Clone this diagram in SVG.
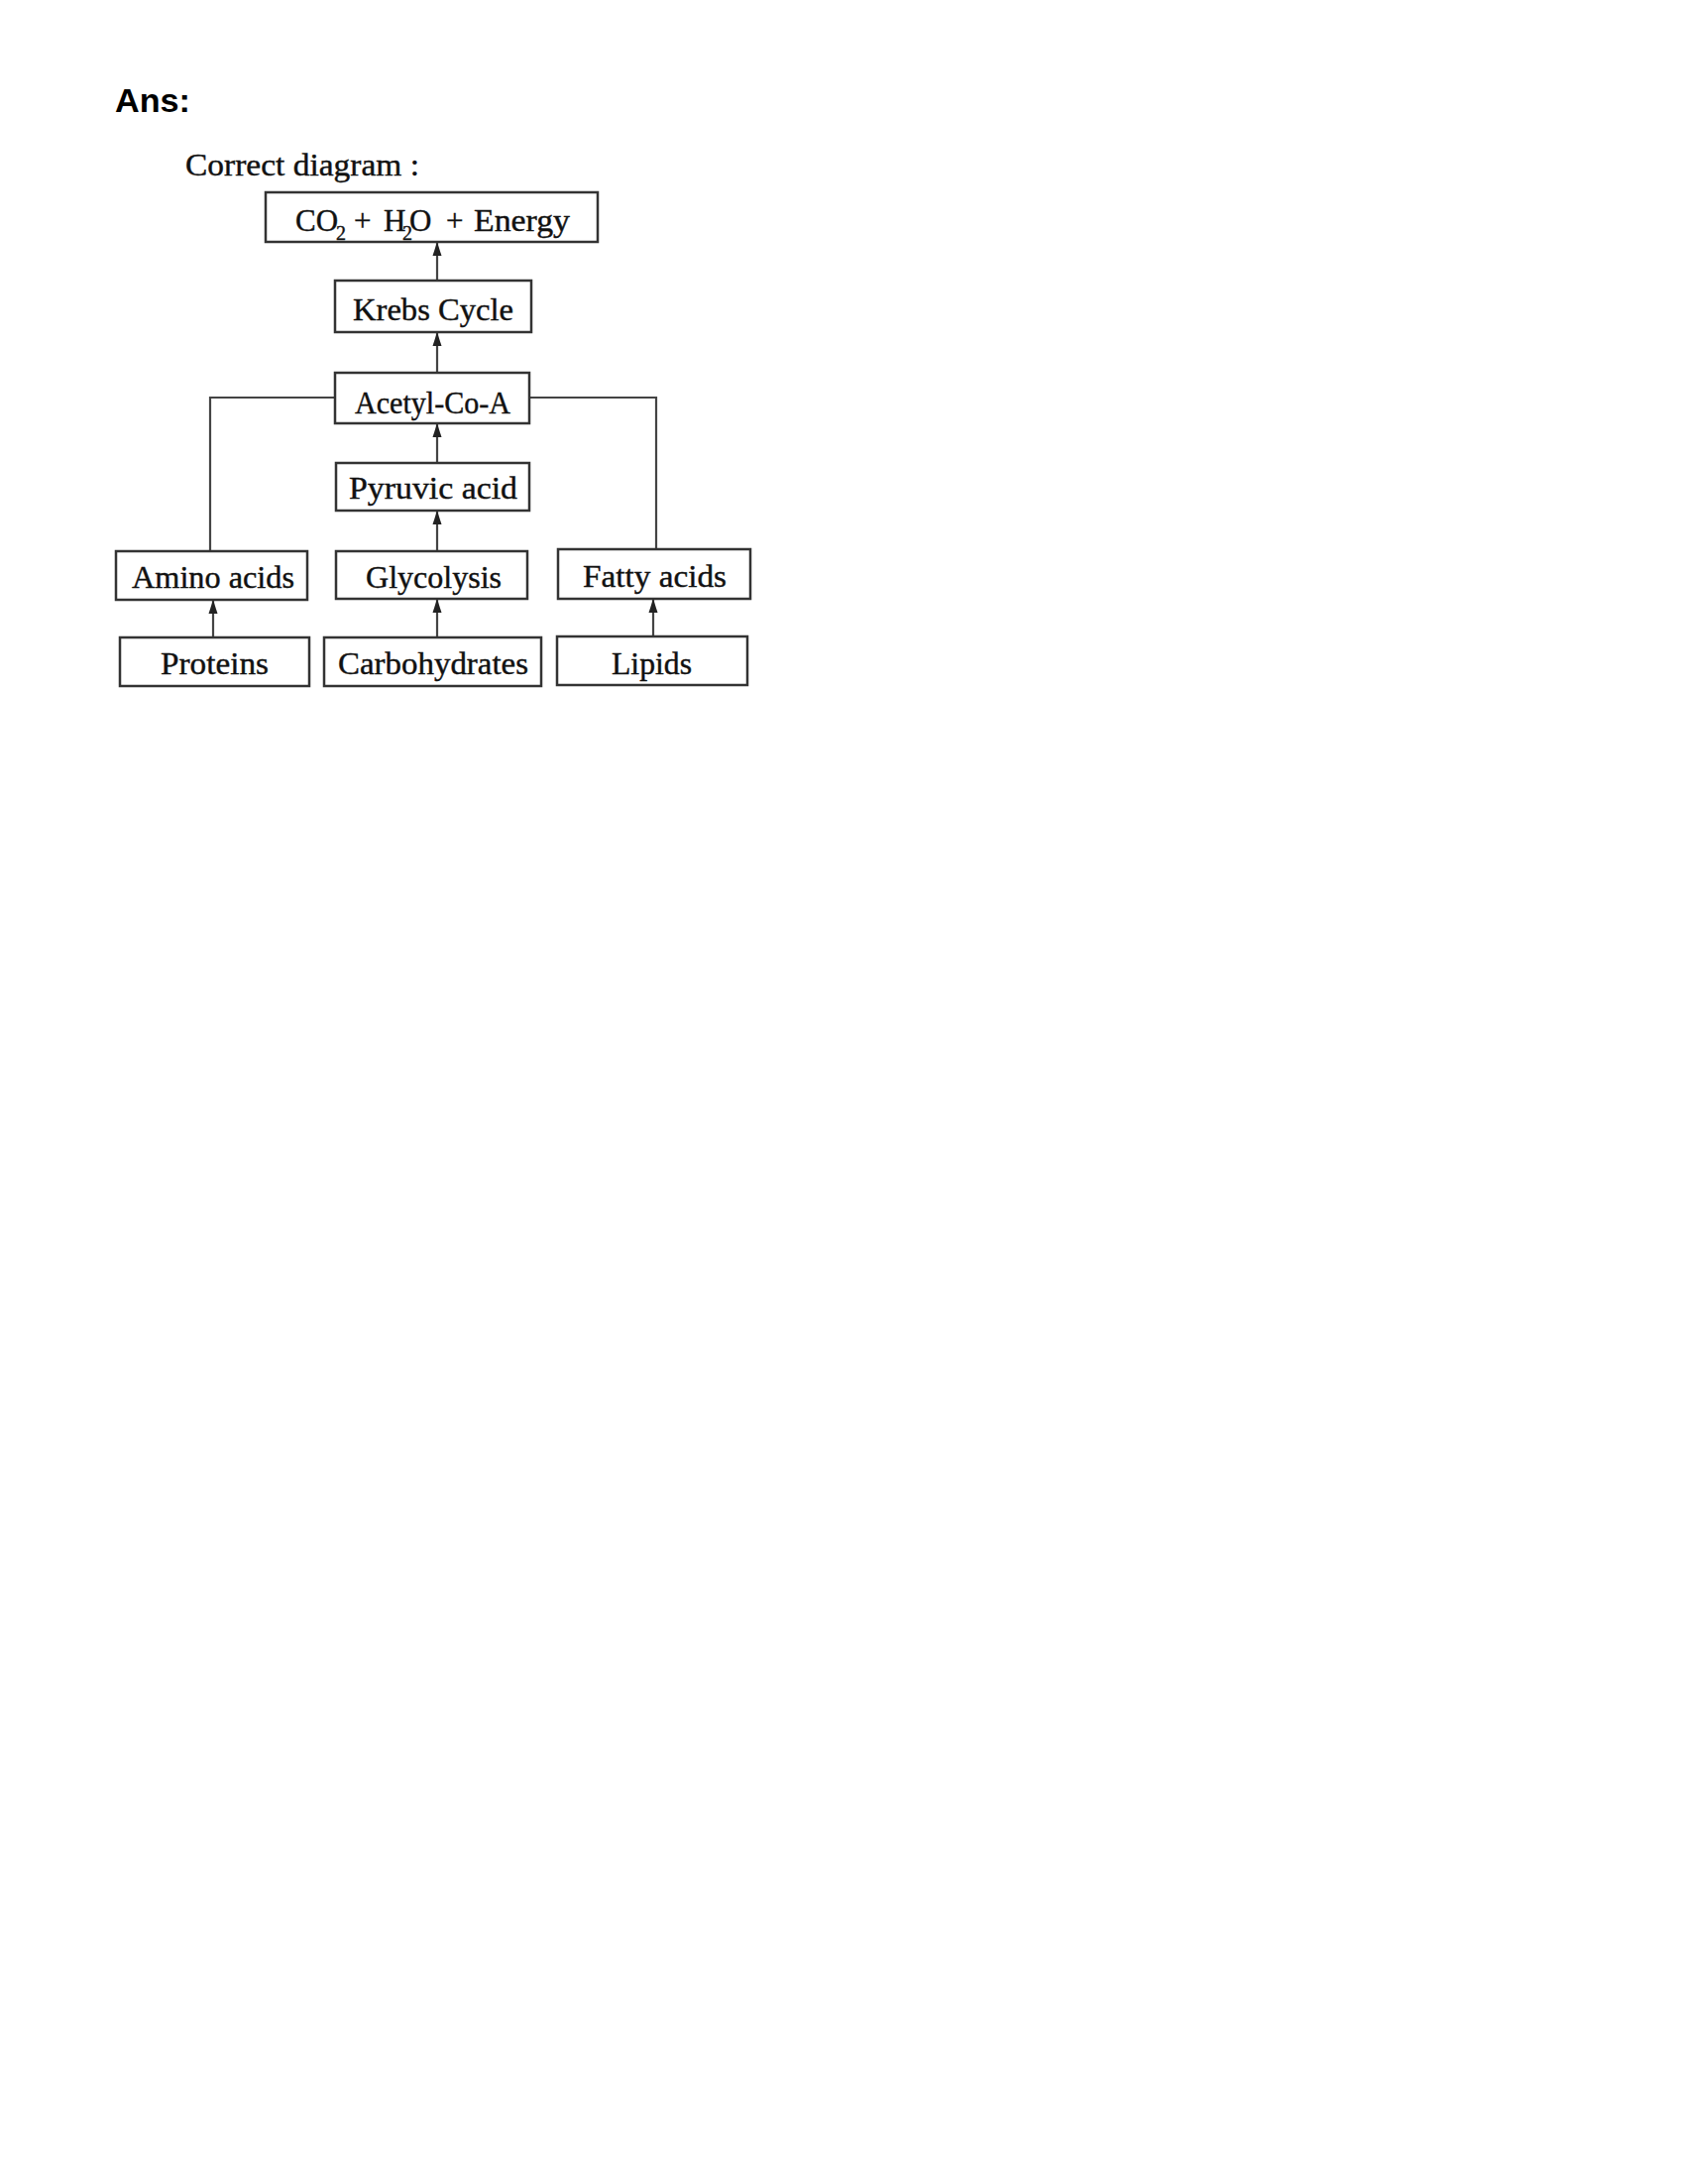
<svg xmlns="http://www.w3.org/2000/svg" width="1703" height="2203" viewBox="0 0 1703 2203">
<style>
.box{fill:#fff;stroke:#333;stroke-width:2.5}
.lbl{font-family:"Liberation Serif","Times New Roman",serif;font-size:31px;fill:#111;stroke:#111;stroke-width:0.4}
.sub{font-size:20px}
.con{fill:none;stroke:#444;stroke-width:2.2}
</style>
<defs>
<marker id="ah" markerUnits="userSpaceOnUse" markerWidth="14" markerHeight="10" viewBox="0 0 14 10" refX="13" refY="5" orient="auto">
<path d="M14,5 L0,0.5 L0,9.5 Z" fill="#222"/>
</marker>
</defs>
<rect width="1703" height="2203" fill="#fff"/>
<text x="116" y="113" font-family="Liberation Sans,Arial,sans-serif" font-weight="bold" font-size="33" textLength="76" lengthAdjust="spacingAndGlyphs" fill="#000">Ans:</text>
<text x="187" y="177" class="lbl" font-size="30" textLength="236" lengthAdjust="spacingAndGlyphs">Correct diagram :</text>

<g id="connectors">
<line class="con" x1="441" y1="283" x2="441" y2="245" marker-end="url(#ah)"/>
<line class="con" x1="441" y1="376" x2="441" y2="336" marker-end="url(#ah)"/>
<line class="con" x1="441" y1="467" x2="441" y2="428" marker-end="url(#ah)"/>
<line class="con" x1="441" y1="556" x2="441" y2="516" marker-end="url(#ah)"/>
<line class="con" x1="441" y1="643" x2="441" y2="605" marker-end="url(#ah)"/>
<line class="con" x1="215" y1="643" x2="215" y2="606" marker-end="url(#ah)"/>
<line class="con" x1="659" y1="642" x2="659" y2="605" marker-end="url(#ah)"/>
<polyline class="con" points="338,401 212,401 212,556"/>
<polyline class="con" points="535,401 662,401 662,554"/>
</g>

<g id="co2">
<rect class="box" x="268" y="194" width="335" height="50"/>
<text class="lbl"><tspan x="298" y="233">CO</tspan><tspan class="sub" x="339" y="242">2</tspan><tspan x="357" y="233">+</tspan><tspan x="387" y="233">H</tspan><tspan class="sub" x="406" y="242">2</tspan><tspan x="413" y="233">O</tspan><tspan x="450" y="233">+</tspan><tspan x="478" y="233" textLength="97" lengthAdjust="spacingAndGlyphs">Energy</tspan></text>
</g>
<g id="krebs">
<rect class="box" x="338" y="283" width="198" height="52"/>
<text class="lbl" x="356" y="323" textLength="162" lengthAdjust="spacingAndGlyphs">Krebs Cycle</text>
</g>
<g id="acetyl">
<rect class="box" x="338" y="376" width="196" height="51"/>
<text class="lbl" x="358" y="417" textLength="157" lengthAdjust="spacingAndGlyphs">Acetyl-Co-A</text>
</g>
<g id="pyruvic">
<rect class="box" x="339" y="467" width="195" height="48"/>
<text class="lbl" x="352" y="503" textLength="170" lengthAdjust="spacingAndGlyphs">Pyruvic acid</text>
</g>
<g id="amino">
<rect class="box" x="117" y="556" width="193" height="49"/>
<text class="lbl" x="133" y="593" textLength="164" lengthAdjust="spacingAndGlyphs">Amino acids</text>
</g>
<g id="glycolysis">
<rect class="box" x="339" y="556" width="193" height="48"/>
<text class="lbl" x="369" y="593" textLength="137" lengthAdjust="spacingAndGlyphs">Glycolysis</text>
</g>
<g id="fatty">
<rect class="box" x="563" y="554" width="194" height="50"/>
<text class="lbl" x="588" y="592" textLength="145" lengthAdjust="spacingAndGlyphs">Fatty acids</text>
</g>
<g id="proteins">
<rect class="box" x="121" y="643" width="191" height="49"/>
<text class="lbl" x="162" y="680" textLength="109" lengthAdjust="spacingAndGlyphs">Proteins</text>
</g>
<g id="carbohydrates">
<rect class="box" x="327" y="643" width="219" height="49"/>
<text class="lbl" x="341" y="680" textLength="192" lengthAdjust="spacingAndGlyphs">Carbohydrates</text>
</g>
<g id="lipids">
<rect class="box" x="562" y="642" width="192" height="49"/>
<text class="lbl" x="617" y="680" textLength="81" lengthAdjust="spacingAndGlyphs">Lipids</text>
</g>
</svg>
